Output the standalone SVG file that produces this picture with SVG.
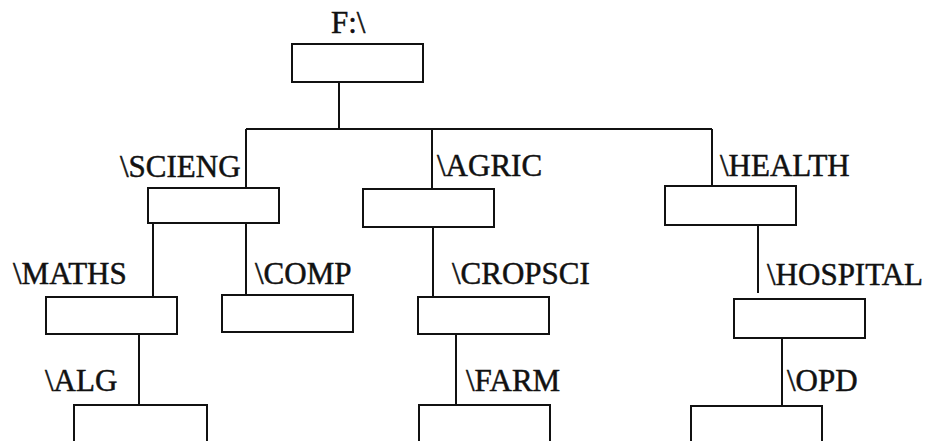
<svg xmlns="http://www.w3.org/2000/svg" width="927" height="441" viewBox="0 0 927 441">
<style>
.box{fill:#fff;stroke:#111;stroke-width:2}
.ln{fill:none;stroke:#111;stroke-width:2}
.lbl{font-family:"Liberation Serif","Times New Roman",serif;font-size:31px;fill:#111;stroke:#111;stroke-width:0.5}
</style>
<rect width="927" height="441" fill="#fff"/>
<g id="connectors">
<path class="ln" d="M339,82 V129 M246,129 H712 M246,129 V188 M432,129 V189 M712,129 V186"/>
<path class="ln" d="M153,223 V297 M246,223 V295 M433,227 V297 M758,225 V293"/>
<path class="ln" d="M139,334 V405 M456,334 V405 M782,338 V406"/>
</g>
<g id="root"><text class="lbl" x="331" y="33">F:\</text><rect class="box" x="292" y="44" width="131" height="38"/></g>
<g id="scieng"><text class="lbl" x="120" y="177">\SCIENG</text><rect class="box" x="148" y="188" width="131" height="35"/></g>
<g id="agric"><text class="lbl" x="437" y="176">\AGRIC</text><rect class="box" x="363" y="189" width="131" height="38"/></g>
<g id="health"><text class="lbl" x="720" y="176">\HEALTH</text><rect class="box" x="665" y="186" width="131" height="39"/></g>
<g id="maths"><text class="lbl" x="13" y="284">\MATHS</text><rect class="box" x="46" y="297" width="131" height="37"/></g>
<g id="comp"><text class="lbl" x="255" y="284">\COMP</text><rect class="box" x="222" y="295" width="131" height="37"/></g>
<g id="cropsci"><text class="lbl" x="452" y="284">\CROPSCI</text><rect class="box" x="418" y="297" width="131" height="37"/></g>
<g id="hospital"><text class="lbl" x="767" y="285">\HOSPITAL</text><rect class="box" x="734" y="299" width="131" height="39"/></g>
<g id="alg"><text class="lbl" x="45" y="391">\ALG</text><rect class="box" x="74" y="405" width="133" height="50"/></g>
<g id="farm"><text class="lbl" x="466" y="391">\FARM</text><rect class="box" x="419" y="405" width="131" height="50"/></g>
<g id="opd"><text class="lbl" x="787" y="391">\OPD</text><rect class="box" x="691" y="406" width="131" height="50"/></g>
</svg>
